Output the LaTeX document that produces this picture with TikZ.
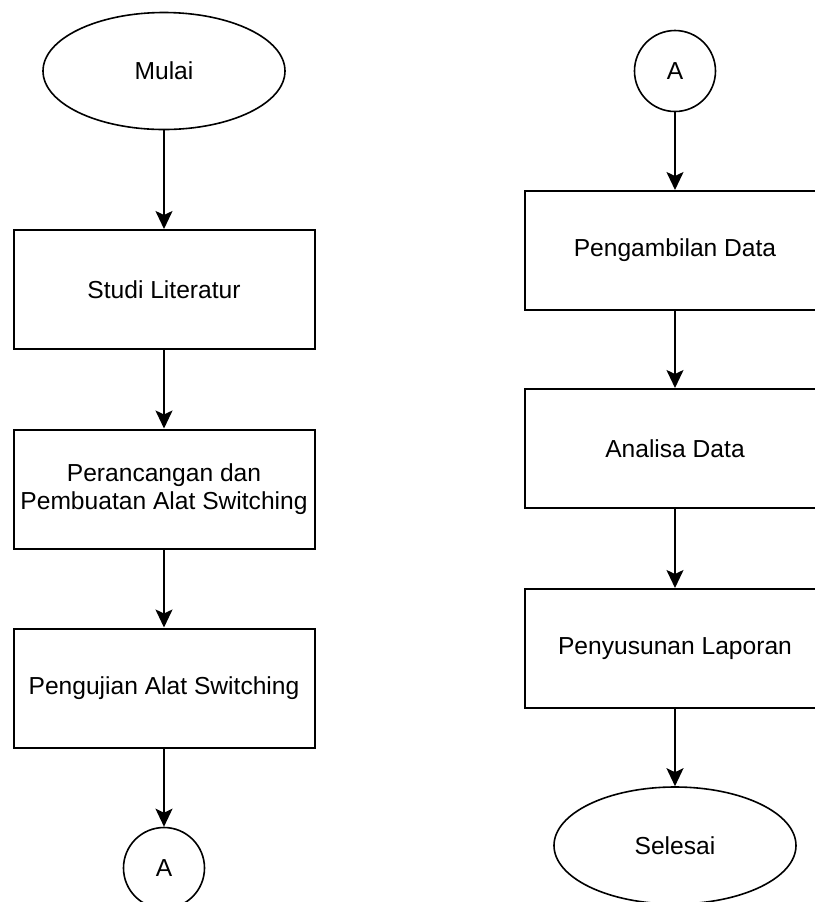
\documentclass[tikz,border=0pt]{standalone}
\usepackage{fontspec}
\setmainfont{Liberation Sans}
\usetikzlibrary{shapes.geometric,arrows.meta}

\begin{document}
\begin{tikzpicture}[x=0.5pt,y=-0.5pt,>={Stealth[length=9pt,width=8.5pt,inset=2pt]},font=\fontsize{12.3}{14}\selectfont,
  proses/.style={rectangle,minimum width=150.5pt,minimum height=59.5pt,line width=1pt,draw=black,fill=white,align=center,inner sep=0pt},
  terminal/.style={ellipse,minimum width=121pt,minimum height=58.5pt,line width=0.8pt,draw=black,fill=white,inner sep=0pt},
  konektor/.style={circle,minimum size=40.5pt,line width=0.8pt,draw=black,fill=white,inner sep=0pt},
  alur/.style={->,line width=1pt}]
\useasboundingbox (0,0) rectangle (815,902);
% kolom kiri
\node[terminal] (mulai) at (164,71) {Mulai};
\node[proses] (studi) at (164,289.5) {Studi Literatur};
\node[proses] (rancang) at (164,489) {Perancangan dan\\Pembuatan Alat Switching};
\node[proses] (uji) at (164,688) {Pengujian Alat Switching};
\node[konektor] (akiri) at (164,868) {A};
\draw[alur] (mulai) -- (studi);
\draw[alur] (studi) -- (rancang);
\draw[alur] (rancang) -- (uji);
\draw[alur] (uji) -- (akiri);
% kolom kanan
\node[konektor] (akanan) at (675,71) {A};
\node[proses] (ambil) at (675,250.5) {Pengambilan Data};
\node[proses] (analisa) at (675,448.5) {Analisa Data};
\node[proses] (lapor) at (675,648.5) {Penyusunan Laporan};
\node[terminal] (selesai) at (675,845.5) {Selesai};
\draw[alur] (akanan) -- (ambil);
\draw[alur] (ambil) -- (analisa);
\draw[alur] (analisa) -- (lapor);
\draw[alur] (lapor) -- (selesai);
\end{tikzpicture}
\end{document}
